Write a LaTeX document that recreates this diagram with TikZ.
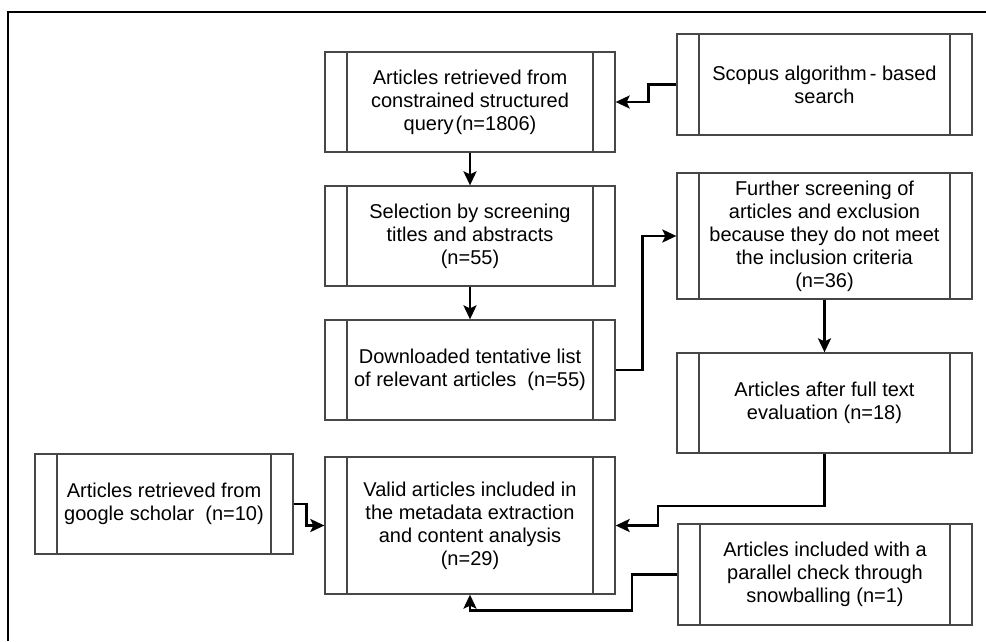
\documentclass[tikz,border=0pt]{standalone}
\usepackage{fontspec}
\setmainfont{Liberation Sans}
\usetikzlibrary{arrows.meta}

\tikzset{
  boxline/.style={draw=black!72, line width=1.3pt},
  procbox/.style={boxline, rectangle, inner sep=0pt, align=center,
    font=\fontsize{20}{23}\selectfont,
    path picture={
      \draw[boxline]
        ([xshift=22pt]path picture bounding box.north west) --
        ([xshift=22pt]path picture bounding box.south west)
        ([xshift=-22pt]path picture bounding box.north east) --
        ([xshift=-22pt]path picture bounding box.south east);
    }},
  conn/.style={draw=black, line width=2.5pt,
    -{Stealth[length=14pt,width=13pt,inset=3pt]}},
  frameline/.style={draw=black, line width=2pt}
}

\begin{document}
\begin{tikzpicture}[x=1pt, y=-1pt]
  \useasboundingbox (0,0) rectangle (986,641);
  % outer frame (top and left edges)
  \draw[frameline] (7.7,641) -- (7.7,11.7) -- (986,11.7);

  % main column
  \node[procbox, minimum width=290pt, minimum height=100pt] (A) at (470,102)
    {Articles retrieved from\\constrained structured\\query\kern2pt(n=1806)};
  \node[procbox, minimum width=290pt, minimum height=100pt] (B) at (470,236)
    {Selection by screening\\titles and abstracts\\(n=55)};
  \node[procbox, minimum width=290pt, minimum height=100pt] (C) at (470,370)
    {Downloaded tentative list\\of relevant articles\ \ (n=55)};
  \node[procbox, minimum width=290pt, minimum height=137pt] (V) at (470,525.5)
    {Valid articles included in\\the metadata extraction\\and content analysis\\(n=29)};

  % right column
  \node[procbox, minimum width=295pt, minimum height=101pt] (S) at (824.5,84.5)
    {Scopus algorithm\kern3pt- based\\search};
  \node[procbox, minimum width=295pt, minimum height=126pt] (F) at (824.5,236)
    {Further screening of\\articles and exclusion\\because they do not meet\\the inclusion criteria\\(n=36)};
  \node[procbox, minimum width=295pt, minimum height=100pt] (D) at (824.5,403)
    {Articles after full text\\evaluation (n=18)};
  \node[procbox, minimum width=294pt, minimum height=101pt] (E) at (825,574.5)
    {Articles included with a\\parallel check through\\snowballing (n=1)};

  % left column
  \node[procbox, minimum width=258pt, minimum height=100pt] (G) at (164,504)
    {Articles retrieved from\\google scholar\ \ (n=10)};

  % bend points
  \coordinate (d1) at (658,506);
  \coordinate (e1) at (632,610.5);

  % connectors
  \draw[conn] (S.west) -- ++(-28,0) |- (A.east);
  \draw[conn] (A.south) -- (B.north);
  \draw[conn] (B.south) -- (C.north);
  \draw[conn] (C.east) -- ++(27,0) |- (F.west);
  \draw[conn] (F.south) -- (D.north);
  \draw[conn] (D.south) |- (d1) |- (V.east);
  \draw[conn] (E.west) -| (e1) -| (V.south);
  \draw[conn] (G.east) -- ++(13,0) |- (V.west);
\end{tikzpicture}
\end{document}
